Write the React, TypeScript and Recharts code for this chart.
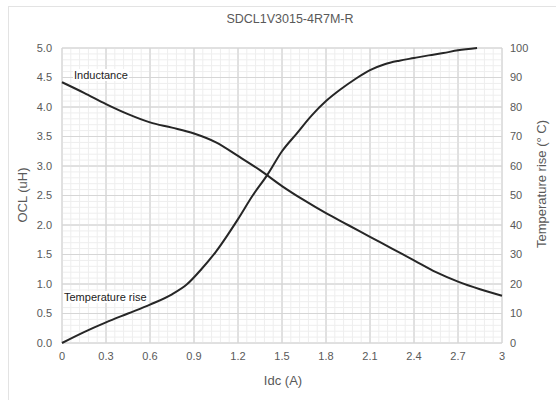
import {
  CartesianGrid,
  Line,
  LineChart,
  ReferenceLine,
  XAxis,
  YAxis,
} from "recharts";

const title = "SDCL1V3015-4R7M-R";

const xTicks = [0, 0.3, 0.6, 0.9, 1.2, 1.5, 1.8, 2.1, 2.4, 2.7, 3];
const ocLTicks = [0, 0.5, 1, 1.5, 2, 2.5, 3, 3.5, 4, 4.5, 5];
const tempTicks = [0, 10, 20, 30, 40, 50, 60, 70, 80, 90, 100];

// inductance curve, OCL (uH) vs Idc (A)
const inductanceIdc = [0, 0.15, 0.3, 0.45, 0.6, 0.75, 0.9, 1.05, 1.2, 1.35, 1.5, 1.65, 1.8, 1.95, 2.1, 2.25, 2.4, 2.55, 2.7, 2.85, 3];
const inductanceOcl = [4.42, 4.24, 4.05, 3.88, 3.74, 3.65, 3.55, 3.4, 3.17, 2.93, 2.66, 2.42, 2.2, 2.0, 1.8, 1.6, 1.4, 1.2, 1.04, 0.91, 0.8];

// temperature rise curve, deg C vs Idc (A)
const tempIdc = [0, 0.15, 0.3, 0.45, 0.6, 0.75, 0.85, 0.95, 1.05, 1.2, 1.3, 1.4, 1.5, 1.6, 1.7, 1.8, 1.9, 2.0, 2.1, 2.2, 2.3, 2.4, 2.5, 2.6, 2.7, 2.83];
const tempRise = [0, 3.7, 7, 10, 13, 16.5, 19.8, 25, 31, 42, 50, 57, 65, 71, 77, 82, 86, 89.5, 92.5, 94.5, 95.7, 96.6, 97.5, 98.3, 99.2, 100];

const inductanceData = inductanceIdc.map((x, i) => ({ x, ocl: inductanceOcl[i] }));
const tempData = tempIdc.map((x, i) => ({ x, temp: tempRise[i] }));

const minorX = Array.from({ length: 51 }, (_, i) => +(i * 0.06).toFixed(2)).filter(
  (v) => !xTicks.some((t) => Math.abs(t - v) < 1e-6)
);
const minorY = Array.from({ length: 51 }, (_, i) => +(i * 0.1).toFixed(1)).filter(
  (v) => !ocLTicks.some((t) => Math.abs(t - v) < 1e-6)
);

const tickFont = { fill: "#595959", fontSize: 11, fontFamily: "Liberation Sans Narrow, Liberation Sans, sans-serif" };
const labelFont = "Liberation Sans, Arial, sans-serif";

export default function App() {
  return (
    <div style={{ position: "absolute", left: 0, top: 0, width: 556, height: 400, background: "#fff", overflow: "hidden" }}>
      <div style={{ position: "absolute", left: 8, top: 6, width: 600, height: 420, borderLeft: "1px solid #e3e3e3", borderTop: "1px solid #e3e3e3" }} />
      <LineChart
        width={556}
        height={400}
        margin={{ top: 48, right: 24, bottom: 37, left: 32 }}
        style={{ position: "absolute", left: 0, top: 0 }}
      >
        <CartesianGrid stroke="#d6d6d6" strokeWidth={1} yAxisId="ocl" />
        {minorX.map((v) => (
          <ReferenceLine key={"mx" + v} x={v} yAxisId="ocl" stroke="#eeeeee" strokeWidth={1} />
        ))}
        {minorY.map((v) => (
          <ReferenceLine key={"my" + v} y={v} yAxisId="ocl" stroke="#eeeeee" strokeWidth={1} />
        ))}
        {xTicks.map((v) => (
          <ReferenceLine key={"Mx" + v} x={v} yAxisId="ocl" stroke="#d6d6d6" strokeWidth={1} />
        ))}
        {ocLTicks.map((v) => (
          <ReferenceLine key={"My" + v} y={v} yAxisId="ocl" stroke="#d6d6d6" strokeWidth={1} />
        ))}
        <XAxis
          dataKey="x"
          type="number"
          domain={[0, 3]}
          ticks={xTicks}
          allowDuplicatedCategory={false}
          height={20}
          tick={tickFont}
          tickLine={false}
          axisLine={false}
          tickSize={0}
          tickMargin={9}
        />
        <YAxis
          yAxisId="ocl"
          domain={[0, 5]}
          ticks={ocLTicks}
          tickFormatter={(v: number) => v.toFixed(1)}
          width={30}
          tick={tickFont}
          tickLine={false}
          axisLine={false}
          tickSize={0}
          tickMargin={10}
        />
        <YAxis
          yAxisId="temp"
          orientation="right"
          domain={[0, 100]}
          ticks={tempTicks}
          width={30}
          tick={{ ...tickFont, textAnchor: "start" }}
          tickLine={false}
          axisLine={false}
          tickSize={0}
          tickMargin={8}
        />
        <Line
          data={inductanceData}
          yAxisId="ocl"
          dataKey="ocl"
          type="monotone"
          stroke="#262626"
          strokeWidth={2}
          dot={false}
          isAnimationActive={false}
        />
        <Line
          data={tempData}
          yAxisId="temp"
          dataKey="temp"
          type="monotone"
          stroke="#262626"
          strokeWidth={2}
          dot={false}
          isAnimationActive={false}
        />
      </LineChart>
      <div style={{ position: "absolute", left: 0, width: 556, top: 12, textAlign: "center", paddingLeft: 24, boxSizing: "border-box", fontFamily: labelFont, fontSize: 12.5, color: "#595959" }}>
        {title}
      </div>
      <div style={{ position: "absolute", left: 73, top: 69, fontFamily: labelFont, fontSize: 11, color: "#222", background: "#fff", padding: "0 1px" }}>
        Inductance
      </div>
      <div style={{ position: "absolute", left: 63, top: 291, fontFamily: labelFont, fontSize: 11, color: "#222", background: "#fff", padding: "0 1px" }}>
        Temperature rise
      </div>
      <div style={{ position: "absolute", left: 283, top: 380, transform: "translate(-50%, -50%)", fontFamily: labelFont, fontSize: 13, color: "#595959", whiteSpace: "nowrap" }}>
        Idc (A)
      </div>
      <div style={{ position: "absolute", left: 22, top: 195, transform: "translate(-50%, -50%) rotate(-90deg)", fontFamily: labelFont, fontSize: 13, color: "#595959", whiteSpace: "nowrap" }}>
        OCL (uH)
      </div>
      <div style={{ position: "absolute", left: 541, top: 184, transform: "translate(-50%, -50%) rotate(-90deg)", fontFamily: labelFont, fontSize: 13, color: "#595959", whiteSpace: "nowrap" }}>
        Temperature rise (° C)
      </div>
    </div>
  );
}
